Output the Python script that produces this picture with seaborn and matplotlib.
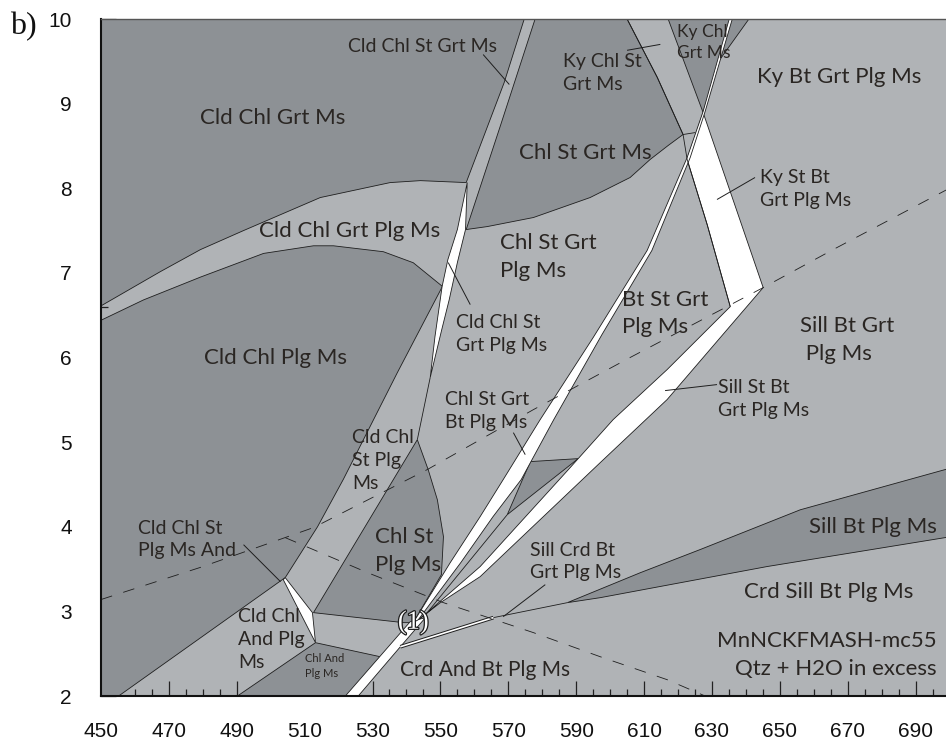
import matplotlib
matplotlib.use("Agg")
import matplotlib.pyplot as plt
import matplotlib.patheffects as pe
from matplotlib.ticker import FixedLocator, MultipleLocator
import pandas as pd
import seaborn as sns

sns.set_theme(style="ticks")
plt.rcParams["font.family"] = ["Lato", "DejaVu Sans"]

DARK = "#8d9195"
LIGHT = "#b0b3b6"
EDGE = "#1e1e1e"
INK = "#2a2623"

# ---------------- field outlines, (T degC, P kbar) ----------------
cld_chl_grt_ms = [(450, 10.0), (574.7, 10.0), (568.8, 9.25), (557.6, 8.067), (544.1, 8.09),
                  (535.2, 8.067), (514.6, 7.89), (492.0, 7.50), (479.3, 7.275), (467.5, 7.015),
                  (450, 6.61)]
chl_st_grt_ms = [(577.9, 10.0), (605.0, 10.0), (613.9, 9.31), (621.5, 8.635), (617.1, 8.505),
                 (611.8, 8.34), (605.9, 8.127), (594.1, 7.89), (577.4, 7.654), (563.8, 7.547),
                 (557.6, 7.512), (567.6, 8.729)]
ky_chl_grt_ms = [(617.1, 10.0), (640.9, 10.0), (631.8, 9.49), (627.4, 8.895)]
cld_chl_plg_ms = [(450, 6.44), (462.5, 6.68), (479.3, 6.95), (497.9, 7.23), (512.6, 7.32),
                  (518.5, 7.32), (533.2, 7.25), (542.0, 7.12), (550.6, 6.84), (537.3, 5.82),
                  (521.4, 4.56), (513.8, 4.0), (504.3, 3.40), (455.2, 2.0), (450, 2.0)]
chl_and_plg_ms = [(490.2, 2.0), (513.2, 2.63), (532.3, 2.464), (522.6, 2.0)]
chl_st_plg_ms = [(543.2, 5.029), (546.4, 4.675), (549.1, 4.32), (550.9, 3.883), (550.3, 3.434),
                 (542.0, 2.867), (539.1, 2.867), (512.6, 2.985)]
sill_bt_plg_ms = [(587.4, 3.103), (608.9, 3.457), (626.5, 3.73), (656.0, 4.2), (700, 4.69),
                  (700, 3.88), (646.3, 3.53), (597.1, 3.162)]
bt_st_sliver = [(576.5, 4.77), (590.6, 4.805), (569.7, 4.143)]

# narrow (white) fields
st_bt_band = [(627.4, 8.895), (645.1, 6.826), (616.8, 5.503), (597.1, 4.758), (561.7, 3.41),
              (550.0, 3.103), (543.5, 2.90), (546.1, 2.985), (561.7, 3.529), (587.7, 4.675),
              (600.9, 5.266), (616.8, 5.857), (635.4, 6.601), (628.6, 7.571), (622.7, 8.34)]
bt_in_left = [(635.1, 10.0), (627.4, 8.907), (622.7, 8.363), (610.9, 7.264), (595.0, 6.235),
              (579.4, 5.266), (568.5, 4.557), (561.7, 4.119), (552.9, 3.576), (542.0, 2.867)]
bt_in_right = [(636.0, 10.0), (628.0, 8.907), (623.6, 8.363), (612.3, 7.264), (597.6, 6.271),
               (583.4, 5.266), (573.8, 4.557), (565.5, 4.119), (556.0, 3.576), (543.5, 2.902)]
cld_st_sliver = [(557.9, 8.067), (555.0, 7.512), (552.2, 7.157), (550.5, 6.838), (548.4, 6.247),
                 (547.0, 5.764), (550.4, 6.33), (552.6, 6.684), (555.0, 7.122), (557.4, 7.512)]
and_sliver = [(503.7, 3.375), (504.3, 3.398), (512.3, 2.985), (513.2, 2.63)]
low_wedge = [(541.1, 2.878), (522.0, 2.0), (525.8, 2.0), (538.2, 2.582), (545.6, 2.926)]

# single reaction lines
st_in_line = [(605.0, 10.0), (613.9, 9.31), (621.5, 8.635), (622.7, 8.34), (628.6, 7.571),
              (635.4, 6.601)]
short_tie = [(621.5, 8.635), (625.1, 8.658)]
cld_out_line = [(547.0, 5.764), (543.2, 5.029)]
sliver_tail = [(569.7, 4.143), (545.0, 2.93)]
crd_double = [(538.2, 2.582), (565.6, 2.926)]
crd_single = [(565.6, 2.926), (587.4, 3.103)]

# dashed isopleths
dash_a = pd.DataFrame({"T": [450, 479.3, 512.6, 546.1, 577.4, 605.9, 645.1, 665.7, 700],
                       "P": [3.14, 3.52, 3.99, 4.675, 5.384, 6.0, 6.826, 7.275, 8.0]})
dash_b = pd.DataFrame({"T": [504.3, 528.5, 550.9, 577.4, 597.1, 616.8, 628.0],
                       "P": [3.871, 3.458, 3.103, 2.749, 2.464, 2.193, 2.0]})

# leader lines
leaders = [
    [(562.6, 9.58), (570.3, 9.226)],
    [(605.0, 9.63), (614.8, 9.70)],
    [(642.7, 8.127), (631.5, 7.867)],
    [(552.3, 7.122), (558.8, 6.625)],
    [(571.5, 5.112), (575.0, 4.852)],
    [(631.5, 5.68), (616.2, 5.609)],
    [(580.9, 3.316), (568.5, 2.937)],
    [(492.0, 3.788), (502.9, 3.351)],
]

# field labels: (T, P, text, size, ha)
BIG, MED = 16, 14
labels = [
    (500.5, 8.836, "Cld Chl Grt Ms", BIG, "center"),
    (544.7, 9.675, "Cld Chl St Grt Ms", MED, "center"),
    (586.2, 9.36, "Ky Chl St\nGrt Ms", MED, "left"),
    (619.8, 9.72, "Ky Chl\nGrt Ms", 12.5, "left"),
    (667.5, 9.31, "Ky Bt Grt Plg Ms", BIG, "center"),
    (592.7, 8.42, "Chl St Grt Ms", BIG, "center"),
    (644.2, 7.99, "Ky St Bt\nGrt Plg Ms", MED, "left"),
    (523.3, 7.49, "Cld Chl Grt Plg Ms", BIG, "center"),
    (567.6, 7.19, "Chl St Grt\nPlg Ms", BIG, "left"),
    (501.5, 6.00, "Cld Chl Plg Ms", BIG, "center"),
    (554.7, 6.28, "Cld Chl St\nGrt Plg Ms", MED, "left"),
    (603.6, 6.52, "Bt St Grt\nPlg Ms", BIG, "left"),
    (656.0, 6.21, "Sill Bt Grt\n Plg Ms", BIG, "left"),
    (631.8, 5.51, "Sill St Bt\nGrt Plg Ms", MED, "left"),
    (551.4, 5.37, "Chl St Grt\nBt Plg Ms", MED, "left"),
    (524.1, 4.78, "Cld Chl\nSt Plg\nMs", MED, "left"),
    (530.8, 3.71, "Chl St\nPlg Ms", BIG, "left"),
    (576.5, 3.59, "Sill Crd Bt\nGrt Plg Ms", MED, "left"),
    (696.3, 4.00, "Sill Bt Plg Ms", BIG, "right"),
    (664.3, 3.233, "Crd Sill Bt Plg Ms", BIG, "center"),
    (696.3, 2.48, "MnNCKFMASH-mc55\nQtz + H2O in excess", BIG, "right"),
    (563.2, 2.311, "Crd And Bt Plg Ms", 15.0, "center"),
    (490.5, 2.665, "Cld Chl\nAnd Plg\nMs", MED, "left"),
    (510.2, 2.35, "Chl And\nPlg Ms", 8, "left"),
    (461.0, 3.85, "Cld Chl St\nPlg Ms And", MED, "left"),
]

x_major = list(range(450, 700, 20))
y_major = list(range(2, 11))

fig = plt.figure(figsize=(9.46, 7.44), dpi=100)
ax = fig.add_axes([101 / 946, 48 / 744, 848.5 / 946, 677 / 744])
ax.set_facecolor(LIGHT)
ax.set_xlim(450, 700)
ax.set_ylim(2, 10)


def field(pts, color, z=2):
    t, p = zip(*pts)
    ax.fill(t, p, facecolor=color, edgecolor=EDGE, linewidth=0.6, zorder=z)


def line(pts, **kw):
    t, p = zip(*pts)
    kw.setdefault("color", EDGE)
    kw.setdefault("linewidth", 0.6)
    kw.setdefault("zorder", 4)
    ax.plot(t, p, solid_capstyle="butt", **kw)


for poly in (cld_chl_grt_ms, chl_st_grt_ms, ky_chl_grt_ms, cld_chl_plg_ms, chl_and_plg_ms,
             chl_st_plg_ms, sill_bt_plg_ms, bt_st_sliver):
    field(poly, DARK)

for poly in (st_bt_band, cld_st_sliver, and_sliver, low_wedge):
    field(poly, "white", z=3)
field(bt_in_left + bt_in_right[::-1], "white", z=3.5)

for pts in (st_in_line, short_tie, cld_out_line, sliver_tail, crd_single):
    line(pts)
line(crd_double, linewidth=2.6)
line(crd_double, linewidth=1.2, color="white", zorder=4.1)

for df in (dash_a, dash_b):
    sns.lineplot(data=df, x="T", y="P", sort=False, estimator=None, ax=ax,
                 color=EDGE, linewidth=0.6, zorder=4.5)
for l in ax.lines[-2:]:
    l.set_linestyle((0, (14, 14)))

for pts in leaders:
    line(pts, linewidth=0.7, zorder=5)

for t, p, s, size, ha in labels:
    ax.text(t, p, s, fontsize=size, ha=ha, va="center", multialignment=ha,
            color=INK, linespacing=1.49 if size >= 15 else 1.42, zorder=6)

ax.text(542.0, 2.867, "(1)", family="Liberation Serif", fontsize=19, ha="center",
        va="center", color="white", zorder=7,
        path_effects=[pe.withStroke(linewidth=1.8, foreground="#1e1e1e")])

ax.set_xlabel("")
ax.set_ylabel("")
ax.xaxis.set_major_locator(FixedLocator(x_major))
ax.xaxis.set_minor_locator(MultipleLocator(5))
ax.yaxis.set_major_locator(FixedLocator(y_major))
ax.yaxis.set_minor_locator(MultipleLocator(0.2))
ax.set_xticklabels([str(v) for v in x_major])
ax.set_yticklabels([str(v) for v in y_major])
ax.tick_params(which="major", direction="in", length=10.5, width=0.9, color="#222",
               labelsize=15, labelcolor="#111")
ax.tick_params(which="minor", direction="in", length=5, width=0.9, color="#222")
ax.tick_params(axis="x", which="major", pad=19)
ax.tick_params(axis="y", which="major", pad=21)
for lab in ax.get_xticklabels() + ax.get_yticklabels():
    lab.set_family(["Liberation Sans", "DejaVu Sans"])

for side in ("left", "bottom"):
    ax.spines[side].set_color("#111")
    ax.spines[side].set_linewidth(1.5)
ax.spines["top"].set_color("#555")
ax.spines["top"].set_linewidth(1.0)
ax.spines["right"].set_visible(False)
for sp in ax.spines.values():
    sp.set_zorder(8)

fig.text(10 / 946, 1 - 27 / 744, "b)", family="Liberation Serif", fontsize=23,
         ha="left", va="center", color="#111")

fig.savefig("out.png", dpi=100)
